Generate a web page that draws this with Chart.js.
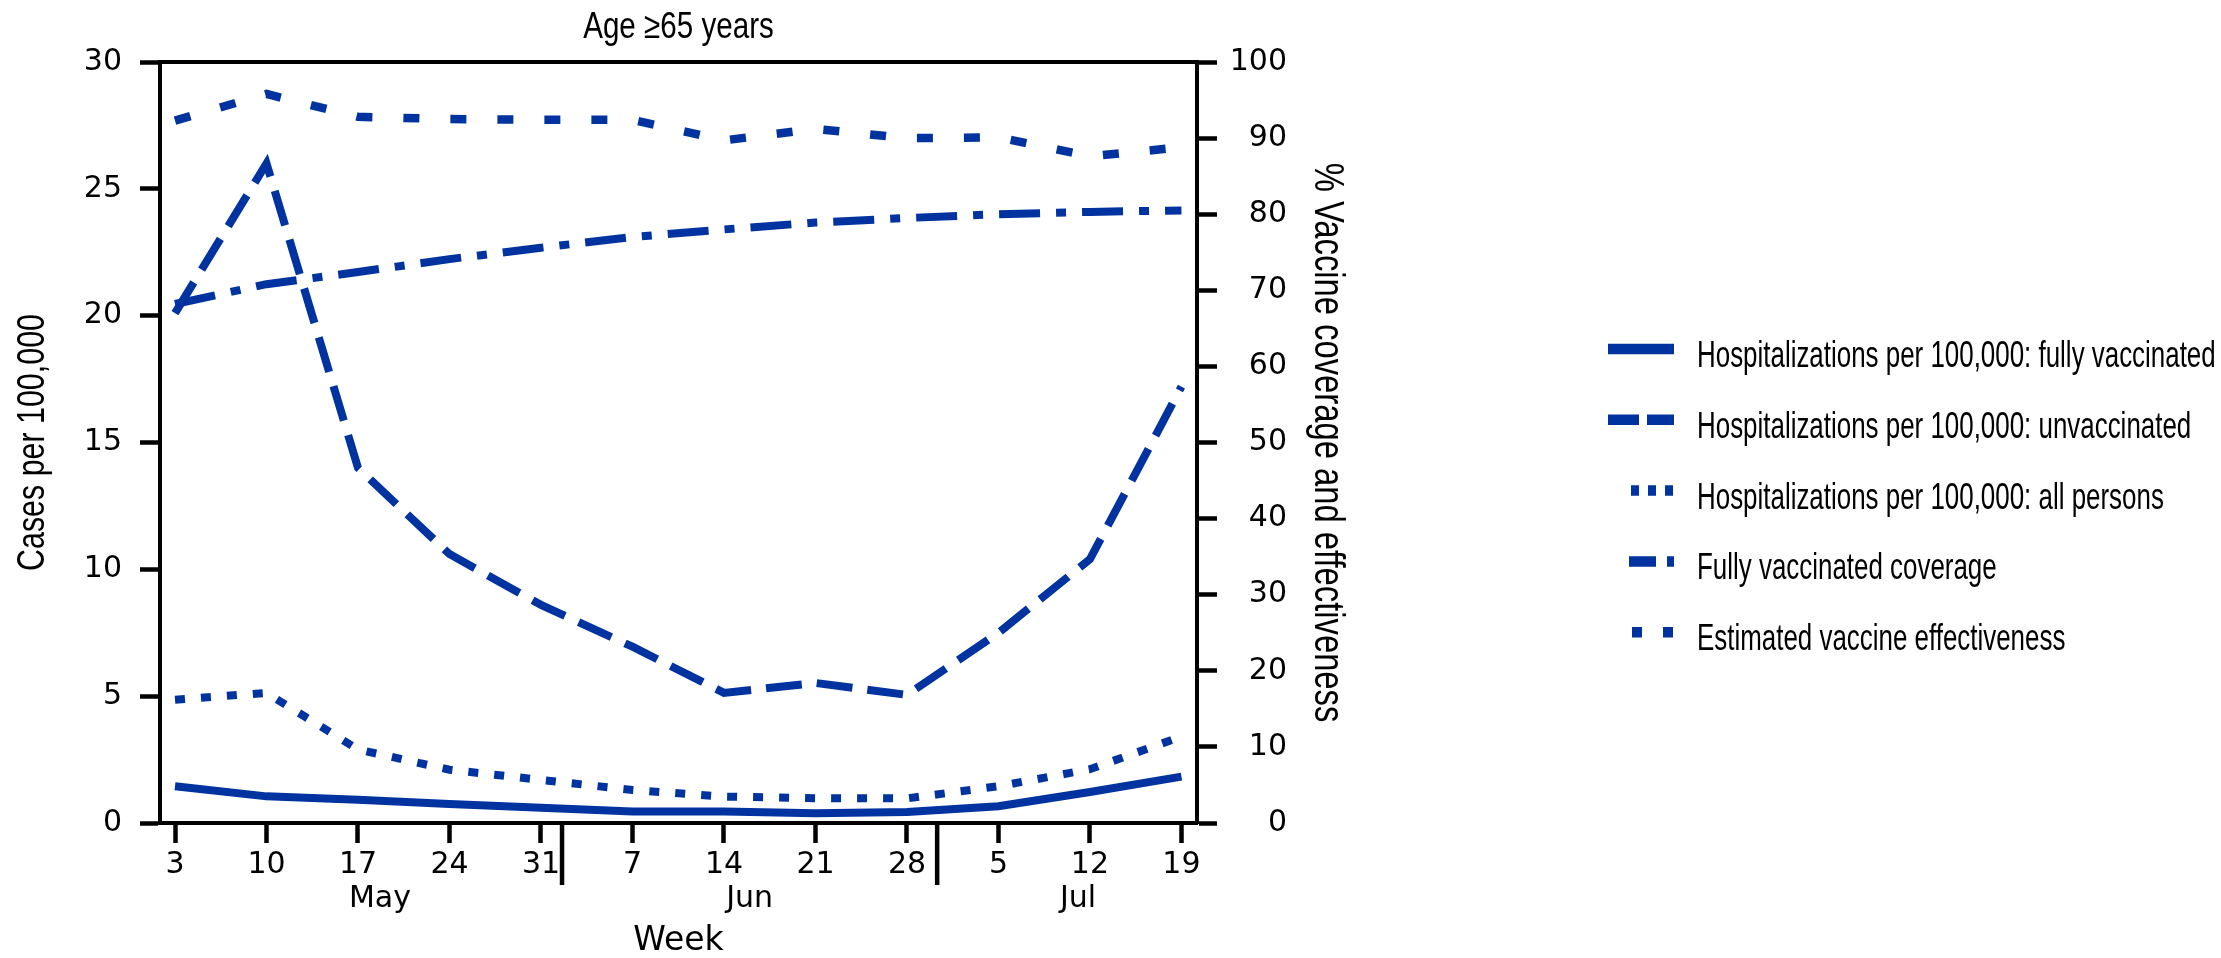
<!DOCTYPE html>
<html>
<head>
<meta charset="utf-8">
<title>Age ≥65 years</title>
<script src="https://cdn.jsdelivr.net/npm/chart.js@4.4.1/dist/chart.umd.min.js"></script>
<style>
    html, body { margin: 0; padding: 0; background: #fff; }
    #wrap { width: 2221px; height: 958px; position: relative; }
</style>
</head>
<body>
<div id="wrap"><canvas id="chart"></canvas></div>
<script>
(function () {
    'use strict';

    // Week of 2021 (x axis), grouped by month
    var weeks = ['3', '10', '17', '24', '31', '7', '14', '21', '28', '5', '12', '19'];
    var months = ['May', 'Jun', 'Jul'];
    var monthPos = [2.24, 6.28, 9.87];   // label centre, in week-index units
    var monthBreaks = [4.23, 8.33];      // Jun 1 and Jul 1

    var leftTicks = [0, 5, 10, 15, 20, 25, 30];
    var rightTicks = [0, 10, 20, 30, 40, 50, 60, 70, 80, 90, 100];

    // Hospitalizations per 100,000 (left axis)
    var fullyVax = [1.45, 1.05, 0.92, 0.75, 0.6, 0.45, 0.45, 0.38, 0.43, 0.66, 1.22, 1.83];
    var unvax = [20.1, 26.0, 14.0, 10.6, 8.6, 6.95, 5.13, 5.52, 5.05, 7.5, 10.4, 17.2];
    var allPersons = [4.86, 5.13, 2.9, 2.1, 1.7, 1.3, 1.04, 0.98, 0.97, 1.45, 2.12, 3.41];
    // Percent (right axis)
    var coverage = [68.2, 70.8, 72.4, 74.1, 75.6, 77.0, 78.0, 78.9, 79.5, 80.0, 80.3, 80.5];
    var effectiveness = [92.3, 95.8, 92.8, 92.5, 92.4, 92.4, 89.7, 91.2, 90.0, 90.1, 87.6, 88.8];

    var BLUE = '#0033a0';
    var NARROW = '"Liberation Sans", Arial, sans-serif';
    var WIDE = '"DejaVu Sans", Verdana, sans-serif';

    function pts(values) {
        return values.map(function (v, i) { return { x: i, y: v }; });
    }

    // condensed text (squeezed horizontally)
    function narrowText(ctx, text, x, y, size, squeeze, angle, align, baseline) {
        ctx.save();
        ctx.translate(x, y);
        ctx.rotate(angle || 0);
        ctx.scale(squeeze, 1);
        ctx.font = size + 'px ' + NARROW;
        ctx.fillStyle = '#000';
        ctx.textAlign = align || 'center';
        ctx.textBaseline = baseline || 'alphabetic';
        ctx.fillText(text, 0, 0);
        ctx.restore();
    }

    var decorations = {
        id: 'decorations',
        beforeDatasetsDraw: function (chart) {
            var a = chart.chartArea, ctx = chart.ctx;
            ctx.save();
            ctx.strokeStyle = '#000';
            ctx.lineWidth = 4;
            ctx.beginPath();
            ctx.moveTo(a.left - 2, a.top);
            ctx.lineTo(a.right + 2, a.top);
            ctx.stroke();
            ctx.restore();
        },
        afterDraw: function (chart) {
            var ctx = chart.ctx, a = chart.chartArea, xs = chart.scales.x;
            var midX = (a.left + a.right) / 2, midY = (a.top + a.bottom) / 2;

            narrowText(ctx, 'Age ≥65 years', midX, 38, 37, 0.8);
            narrowText(ctx, 'Cases per 100,000', 34, midY, 38, 0.8, -Math.PI / 2, 'center', 'middle');
            narrowText(ctx, '% Vaccine coverage and effectiveness', a.right + 130, midY, 42, 0.78, Math.PI / 2, 'center', 'middle');

            // month separators and month names
            ctx.save();
            ctx.strokeStyle = '#000';
            ctx.lineWidth = 4.5;
            monthBreaks.forEach(function (b) {
                var px = xs.getPixelForValue(b);
                ctx.beginPath();
                ctx.moveTo(px, a.bottom);
                ctx.lineTo(px, a.bottom + 62);
                ctx.stroke();
            });
            ctx.fillStyle = '#000';
            ctx.textAlign = 'center';
            ctx.textBaseline = 'alphabetic';
            ctx.font = '30px ' + WIDE;
            months.forEach(function (m, i) {
                ctx.fillText(m, xs.getPixelForValue(monthPos[i]), a.bottom + 84);
            });
            ctx.font = '33px ' + WIDE;
            ctx.fillText('Week', midX, a.bottom + 127);
            ctx.restore();

            // legend
            var y0 = 349, step = 70.8, lineEnd = 1674, textX = 1697;
            chart.data.datasets.forEach(function (ds, i) {
                var y = y0 + i * step;
                ctx.save();
                ctx.strokeStyle = BLUE;
                ctx.lineWidth = 10.5;
                ctx.setLineDash(ds.legendDash);
                ctx.beginPath();
                ctx.moveTo(lineEnd - ds.legendLen, y);
                ctx.lineTo(lineEnd, y);
                ctx.stroke();
                ctx.restore();
                narrowText(ctx, ds.label, textX, y + 18, 36, 0.72, 0, 'left');
            });
        }
    };

    function fixedTicks(list) {
        return function (scale) {
            scale.ticks = list.map(function (v) { return { value: v }; });
        };
    }

    var tickFont = { family: WIDE, size: 30 };
    var tickGrid = { drawOnChartArea: false, tickLength: 20, tickWidth: 4.5, color: '#000' };

    new Chart(document.getElementById('chart'), {
        type: 'line',
        data: {
            datasets: [{
                label: 'Hospitalizations per 100,000: fully vaccinated',
                data: pts(fullyVax),
                yAxisID: 'y',
                borderWidth: 8,
                borderDash: [],
                legendDash: [],
                legendLen: 66
            }, {
                label: 'Hospitalizations per 100,000: unvaccinated',
                data: pts(unvax),
                yAxisID: 'y',
                borderWidth: 8,
                borderDash: [36, 15],
                legendDash: [31, 8],
                legendLen: 66
            }, {
                label: 'Hospitalizations per 100,000: all persons',
                data: pts(allPersons),
                yAxisID: 'y',
                borderWidth: 8,
                borderDash: [10, 16],
                legendDash: [8, 9],
                legendLen: 43
            }, {
                label: 'Fully vaccinated coverage',
                data: pts(coverage),
                yAxisID: 'y2',
                borderWidth: 8,
                borderDash: [41, 16, 10, 16],
                legendDash: [27, 11, 7, 11],
                legendLen: 45
            }, {
                label: 'Estimated vaccine effectiveness',
                data: pts(effectiveness),
                yAxisID: 'y2',
                borderWidth: 8.5,
                borderDash: [16, 31],
                legendDash: [10, 21],
                legendLen: 42
            }]
        },
        options: {
            responsive: true,
            maintainAspectRatio: false,
            animation: false,
            layout: { padding: { left: 0, top: 62, right: 934, bottom: 0 } },
            plugins: {
                legend: { display: false },
                tooltip: { enabled: false },
                title: { display: false }
            },
            elements: {
                point: { radius: 0 },
                line: { tension: 0, borderColor: BLUE, fill: false, borderCapStyle: 'butt' }
            },
            scales: {
                x: {
                    type: 'linear',
                    min: -0.164,
                    max: 11.17,
                    afterBuildTicks: function (scale) {
                        scale.ticks = weeks.map(function (w, i) { return { value: i }; });
                    },
                    afterFit: function (scale) { scale.height = 135; },
                    ticks: {
                        callback: function (v) { return weeks[v]; },
                        font: tickFont,
                        color: '#000',
                        padding: 4,
                        maxRotation: 0,
                        autoSkip: false
                    },
                    grid: tickGrid,
                    border: { color: '#000', width: 4 }
                },
                y: {
                    position: 'left',
                    min: 0,
                    max: 30,
                    afterBuildTicks: fixedTicks(leftTicks),
                    afterFit: function (scale) { scale.width = 160; },
                    ticks: { font: tickFont, color: '#000', padding: 18 },
                    grid: tickGrid,
                    border: { color: '#000', width: 4 }
                },
                y2: {
                    position: 'right',
                    min: 0,
                    max: 100,
                    afterBuildTicks: fixedTicks(rightTicks),
                    afterFit: function (scale) { scale.width = 90; },
                    ticks: { font: tickFont, color: '#000', padding: 13, crossAlign: 'far' },
                    grid: tickGrid,
                    border: { color: '#000', width: 4 }
                }
            }
        },
        plugins: [decorations]
    });
})();
</script>
</body>
</html>
